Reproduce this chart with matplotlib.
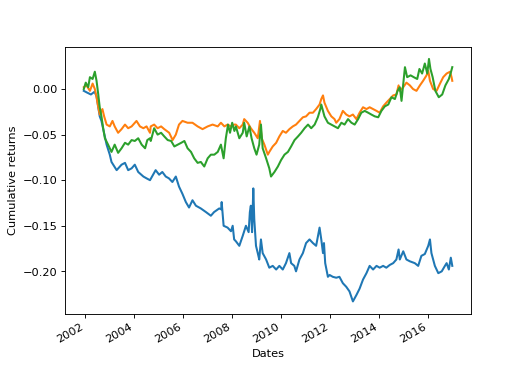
import pandas as pd
import matplotlib
matplotlib.use("Agg")
import matplotlib.pyplot as plt


# decimal years, with cumulative returns
blue_t = [2001.96, 2002.10, 2002.25, 2002.40, 2002.48, 2002.61, 2002.68, 2002.89, 2003.02,
          2003.09, 2003.30, 2003.50, 2003.64, 2003.77, 2003.91, 2004.04, 2004.18, 2004.39,
          2004.52, 2004.66, 2004.89, 2005.03, 2005.16, 2005.30, 2005.43, 2005.57, 2005.71,
          2005.84, 2005.98, 2006.12, 2006.25, 2006.39, 2006.53, 2006.73, 2006.94, 2007.14,
          2007.27, 2007.48, 2007.56, 2007.58, 2007.66, 2007.82, 2007.96, 2008.03, 2008.09,
          2008.16, 2008.30, 2008.44, 2008.57, 2008.68, 2008.73, 2008.77, 2008.82, 2008.87,
          2008.91, 2008.98, 2009.05, 2009.11, 2009.18, 2009.25, 2009.39, 2009.52, 2009.66,
          2009.80, 2009.93, 2010.07, 2010.20, 2010.34, 2010.41, 2010.54, 2010.61, 2010.75,
          2010.89, 2011.02, 2011.16, 2011.30, 2011.43, 2011.57, 2011.64, 2011.71, 2011.75,
          2011.80, 2011.91, 2011.98, 2012.11, 2012.25, 2012.38, 2012.52, 2012.66, 2012.79,
          2012.93, 2013.07, 2013.20, 2013.34, 2013.48, 2013.61, 2013.75, 2013.89, 2014.02,
          2014.16, 2014.29, 2014.43, 2014.57, 2014.70, 2014.79, 2014.84, 2014.98, 2015.11,
          2015.25, 2015.45, 2015.59, 2015.72, 2015.86, 2016.00, 2016.07, 2016.13, 2016.27,
          2016.41, 2016.55, 2016.68, 2016.75, 2016.84, 2016.92, 2016.98]
blue_v = [-0.002, -0.004, -0.006, -0.003, -0.008, -0.030, -0.035, -0.061, -0.072,
          -0.080, -0.089, -0.083, -0.081, -0.089, -0.087, -0.083, -0.091, -0.096,
          -0.098, -0.100, -0.089, -0.094, -0.091, -0.096, -0.098, -0.102, -0.096,
          -0.107, -0.115, -0.124, -0.130, -0.122, -0.128, -0.131, -0.135, -0.139,
          -0.135, -0.131, -0.132, -0.124, -0.150, -0.152, -0.156, -0.150, -0.165,
          -0.167, -0.172, -0.161, -0.150, -0.157, -0.135, -0.128, -0.157, -0.109,
          -0.143, -0.172, -0.180, -0.187, -0.165, -0.180, -0.187, -0.196, -0.194,
          -0.198, -0.194, -0.198, -0.191, -0.180, -0.191, -0.194, -0.200, -0.187,
          -0.180, -0.169, -0.165, -0.169, -0.172, -0.152, -0.165, -0.180, -0.169,
          -0.191, -0.206, -0.204, -0.206, -0.207, -0.206, -0.213, -0.217, -0.222,
          -0.233, -0.226, -0.219, -0.209, -0.202, -0.194, -0.198, -0.194, -0.196,
          -0.194, -0.196, -0.193, -0.191, -0.187, -0.176, -0.187, -0.178, -0.187,
          -0.189, -0.191, -0.194, -0.183, -0.181, -0.172, -0.165, -0.180, -0.194,
          -0.202, -0.200, -0.194, -0.191, -0.198, -0.185, -0.194]

orange_t = [2001.96, 2002.07, 2002.21, 2002.32, 2002.41, 2002.48, 2002.55, 2002.61, 2002.72,
            2002.79, 2002.89, 2003.02, 2003.13, 2003.22, 2003.36, 2003.50, 2003.64, 2003.77,
            2003.91, 2004.11, 2004.25, 2004.39, 2004.52, 2004.66, 2004.69, 2004.83, 2004.97,
            2005.11, 2005.24, 2005.44, 2005.58, 2005.71, 2005.84, 2005.98, 2006.19, 2006.39,
            2006.60, 2006.80, 2007.01, 2007.21, 2007.42, 2007.55, 2007.69, 2007.82, 2007.96,
            2008.09, 2008.16, 2008.30, 2008.44, 2008.50, 2008.64, 2008.77, 2008.91, 2009.05,
            2009.14, 2009.21, 2009.32, 2009.46, 2009.52, 2009.66, 2009.80, 2009.93, 2010.07,
            2010.20, 2010.34, 2010.48, 2010.61, 2010.75, 2010.89, 2011.02, 2011.16, 2011.30,
            2011.43, 2011.57, 2011.64, 2011.71, 2011.77, 2011.91, 2012.05, 2012.18, 2012.25,
            2012.38, 2012.52, 2012.66, 2012.79, 2012.93, 2013.07, 2013.20, 2013.34, 2013.48,
            2013.61, 2013.75, 2013.89, 2014.02, 2014.16, 2014.29, 2014.43, 2014.57, 2014.70,
            2014.79, 2014.84, 2014.98, 2015.11, 2015.25, 2015.38, 2015.52, 2015.66, 2015.79,
            2015.93, 2016.00, 2016.07, 2016.20, 2016.34, 2016.48, 2016.61, 2016.75, 2016.89,
            2016.95, 2016.98]
orange_v = [0.002, 0.004, -0.002, 0.006, 0.000, -0.009, -0.020, -0.028, -0.022,
            -0.030, -0.039, -0.041, -0.035, -0.041, -0.048, -0.044, -0.039, -0.043,
            -0.041, -0.035, -0.041, -0.043, -0.041, -0.048, -0.041, -0.039, -0.043,
            -0.041, -0.044, -0.048, -0.056, -0.050, -0.039, -0.035, -0.037, -0.037,
            -0.041, -0.044, -0.041, -0.039, -0.041, -0.037, -0.041, -0.039, -0.041,
            -0.039, -0.039, -0.043, -0.039, -0.033, -0.037, -0.043, -0.048, -0.054,
            -0.035, -0.054, -0.061, -0.072, -0.069, -0.063, -0.059, -0.052, -0.046,
            -0.048, -0.044, -0.041, -0.039, -0.035, -0.031, -0.030, -0.026, -0.026,
            -0.022, -0.017, -0.011, -0.007, -0.015, -0.024, -0.030, -0.033, -0.037,
            -0.033, -0.024, -0.028, -0.030, -0.028, -0.033, -0.026, -0.020, -0.022,
            -0.020, -0.022, -0.024, -0.026, -0.019, -0.015, -0.011, -0.007, -0.006,
            0.004, -0.002, 0.002, 0.007, 0.004, 0.000, -0.002, 0.004, 0.009,
            0.015, 0.020, 0.009, 0.000, -0.002, 0.006, 0.013, 0.017, 0.019,
            0.013, 0.009]

green_t = [2001.96, 2002.04, 2002.14, 2002.21, 2002.32, 2002.41, 2002.48, 2002.55, 2002.61,
           2002.68, 2002.75, 2002.82, 2002.95, 2003.09, 2003.22, 2003.36, 2003.50, 2003.64,
           2003.77, 2003.91, 2004.04, 2004.18, 2004.32, 2004.46, 2004.55, 2004.66, 2004.69,
           2004.83, 2004.97, 2005.11, 2005.24, 2005.38, 2005.52, 2005.65, 2005.79, 2005.93,
           2006.06, 2006.19, 2006.33, 2006.46, 2006.60, 2006.73, 2006.87, 2007.01, 2007.14,
           2007.28, 2007.42, 2007.55, 2007.66, 2007.75, 2007.84, 2007.92, 2008.01, 2008.10,
           2008.16, 2008.30, 2008.44, 2008.50, 2008.60, 2008.71, 2008.80, 2008.91, 2009.00,
           2009.11, 2009.18, 2009.25, 2009.39, 2009.52, 2009.59, 2009.73, 2009.87, 2010.00,
           2010.14, 2010.28, 2010.41, 2010.55, 2010.69, 2010.82, 2010.96, 2011.10, 2011.23,
           2011.37, 2011.50, 2011.60, 2011.64, 2011.77, 2011.91, 2012.05, 2012.18, 2012.32,
           2012.46, 2012.59, 2012.73, 2012.87, 2013.00, 2013.14, 2013.27, 2013.41, 2013.55,
           2013.68, 2013.82, 2013.96, 2014.09, 2014.23, 2014.37, 2014.50, 2014.64, 2014.75,
           2014.84, 2014.91, 2014.98, 2015.05, 2015.14, 2015.28, 2015.41, 2015.55, 2015.64,
           2015.75, 2015.86, 2015.96, 2016.03, 2016.09, 2016.18, 2016.29, 2016.43, 2016.57,
           2016.70, 2016.84, 2016.91, 2016.98]
green_v = [0.000, 0.007, 0.002, 0.013, 0.011, 0.019, 0.009, -0.006, -0.020,
           -0.030, -0.043, -0.054, -0.061, -0.069, -0.061, -0.070, -0.065, -0.059,
           -0.061, -0.056, -0.057, -0.054, -0.061, -0.065, -0.056, -0.054, -0.057,
           -0.043, -0.050, -0.048, -0.052, -0.056, -0.057, -0.063, -0.061, -0.059,
           -0.057, -0.065, -0.069, -0.076, -0.081, -0.080, -0.085, -0.076, -0.072,
           -0.072, -0.069, -0.061, -0.076, -0.054, -0.039, -0.048, -0.037, -0.046,
           -0.041, -0.054, -0.048, -0.037, -0.052, -0.041, -0.054, -0.065, -0.072,
           -0.061, -0.039, -0.065, -0.076, -0.087, -0.096, -0.091, -0.085, -0.078,
           -0.072, -0.069, -0.063, -0.056, -0.052, -0.048, -0.043, -0.039, -0.043,
           -0.039, -0.031, -0.022, -0.017, -0.030, -0.037, -0.039, -0.041, -0.043,
           -0.037, -0.039, -0.033, -0.037, -0.039, -0.033, -0.026, -0.024, -0.026,
           -0.028, -0.030, -0.031, -0.024, -0.019, -0.017, -0.009, -0.011, -0.002,
           0.002, -0.013, 0.006, 0.024, 0.013, 0.015, 0.013, 0.011, 0.022,
           0.017, 0.028, 0.017, 0.033, 0.022, 0.013, -0.002, -0.009, -0.006,
           0.004, 0.011, 0.017, 0.024]


def to_dates(years):
    # decimal year -> timestamp
    out = []
    for y in years:
        yr = int(y)
        out.append(pd.Timestamp(year=yr, month=1, day=1) + pd.Timedelta(days=(y - yr) * 365.25))
    return out


def main():
    fig, ax = plt.subplots(figsize=(6.4, 4.8), dpi=81.72)
    # slightly thicker lines to mimic the dense daily noise of the original
    ax.plot(to_dates(blue_t), blue_v, color="tab:blue", linewidth=1.8)
    ax.plot(to_dates(orange_t), orange_v, color="tab:orange", linewidth=1.8)
    ax.plot(to_dates(green_t), green_v, color="tab:green", linewidth=1.8)
    ax.set_xlabel("Dates")
    ax.set_ylabel("Cumulative returns")
    fig.autofmt_xdate()
    fig.savefig("out.png", dpi=81.72)


if __name__ == "__main__":
    main()
